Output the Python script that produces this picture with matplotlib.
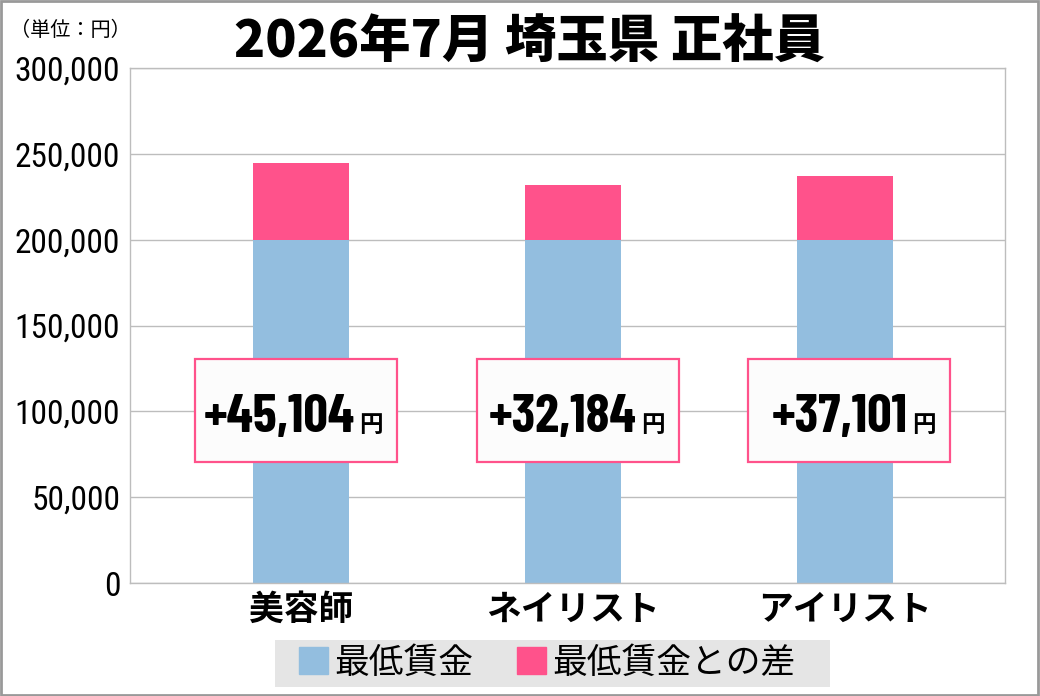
import matplotlib
matplotlib.use("Agg")
import matplotlib.pyplot as plt
from matplotlib.patches import Rectangle, Patch
from matplotlib.ticker import FuncFormatter

plt.rcParams['font.family'] = ['Noto Sans CJK JP', 'DejaVu Sans']

# data
categories = ['美容師', 'ネイリスト', 'アイリスト']
min_wage = [199700, 199700, 199700]
diff = [45104, 32184, 37101]
diff_labels = ['+45,104', '+32,184', '+37,101']
yticks = [0, 50000, 100000, 150000, 200000, 250000, 300000]
title = '2026年7月 埼玉県 正社員'
unit = '（単位：円）'
legend_labels = ['最低賃金', '最低賃金との差']

blue = '#93bedf'
pink = '#ff528b'
grid = '#bdbdbd'
narrow = ['Barlow Condensed', 'Roboto Condensed', 'DejaVu Sans']
tickfont = ['Roboto Condensed', 'DejaVu Sans']

fig = plt.figure(figsize=(10.4, 6.96), dpi=100)
ax = fig.add_axes([130 / 1040, 1 - 583 / 696, 875 / 1040, 515 / 696])

x = list(range(len(categories)))
ax.bar(x, min_wage, width=0.353, color=blue, zorder=2)
ax.bar(x, diff, bottom=min_wage, width=0.353, color=pink, zorder=2)

ax.set_xlim(-0.629, 2.588)
ax.set_ylim(0, 300000)
ax.set_yticks(yticks)
ax.yaxis.set_major_formatter(FuncFormatter(lambda v, p: f'{int(v):,}'))
ax.yaxis.grid(True, color=grid, linewidth=1, zorder=0)
ax.set_axisbelow(True)
for s in ax.spines.values():
    s.set_color(grid)
    s.set_linewidth(1)
ax.tick_params(axis='y', length=0, pad=7, labelsize=24)
ax.tick_params(axis='x', length=0, pad=6)
for t in ax.get_yticklabels():
    t.set_family(tickfont)

ax.set_xticks(x)
ax.set_xticklabels(categories, fontsize=25, fontweight='bold')

# difference boxes
box_shift = [-0.018, 0.018, 0.015]
for i, lab in enumerate(diff_labels):
    cx = i + box_shift[i]
    ax.add_patch(Rectangle((cx - 0.371, 70480), 0.742, 60000, facecolor='#fcfcfc',
                           edgecolor=pink, linewidth=1.6, zorder=3))
    ax.annotate(lab, xy=(cx, 100480), xytext=(59, -21.5), textcoords='offset pixels',
                ha='right', va='baseline', fontsize=39, fontweight='bold',
                family=narrow, zorder=4)
    ax.annotate('円', xy=(cx, 100480), xytext=(63, -21.5), textcoords='offset pixels',
                ha='left', va='baseline', fontsize=17, fontweight='bold', zorder=4)

fig.text(530 / 1040, 1 - 58 / 696, title, ha='center', va='baseline', fontsize=37,
         fontweight='heavy')
fig.text(10 / 1040, 1 - 31 / 696, unit, ha='left', va='center', fontsize=14.5)

# legend
fig.patches.append(Rectangle((275 / 1040, 1 - 687 / 696), 555 / 1040, 47 / 696,
                             transform=fig.transFigure, facecolor='#e5e5e5', edgecolor='none'))
handles = [Patch(color=blue), Patch(color=pink)]
fig.legend(handles, legend_labels, loc='center', bbox_to_anchor=(547 / 1040, 1 - 663 / 696),
           ncol=2, fontsize=25, frameon=False, handlelength=0.84, handleheight=0.86,
           handletextpad=0.17, columnspacing=1.27, borderpad=0.1)

fig.patches.append(Rectangle((0.001, 0.001), 0.997, 0.997, transform=fig.transFigure,
                             fill=False, edgecolor='#999999', linewidth=2))

fig.savefig('out.png', dpi=100, facecolor='white')
